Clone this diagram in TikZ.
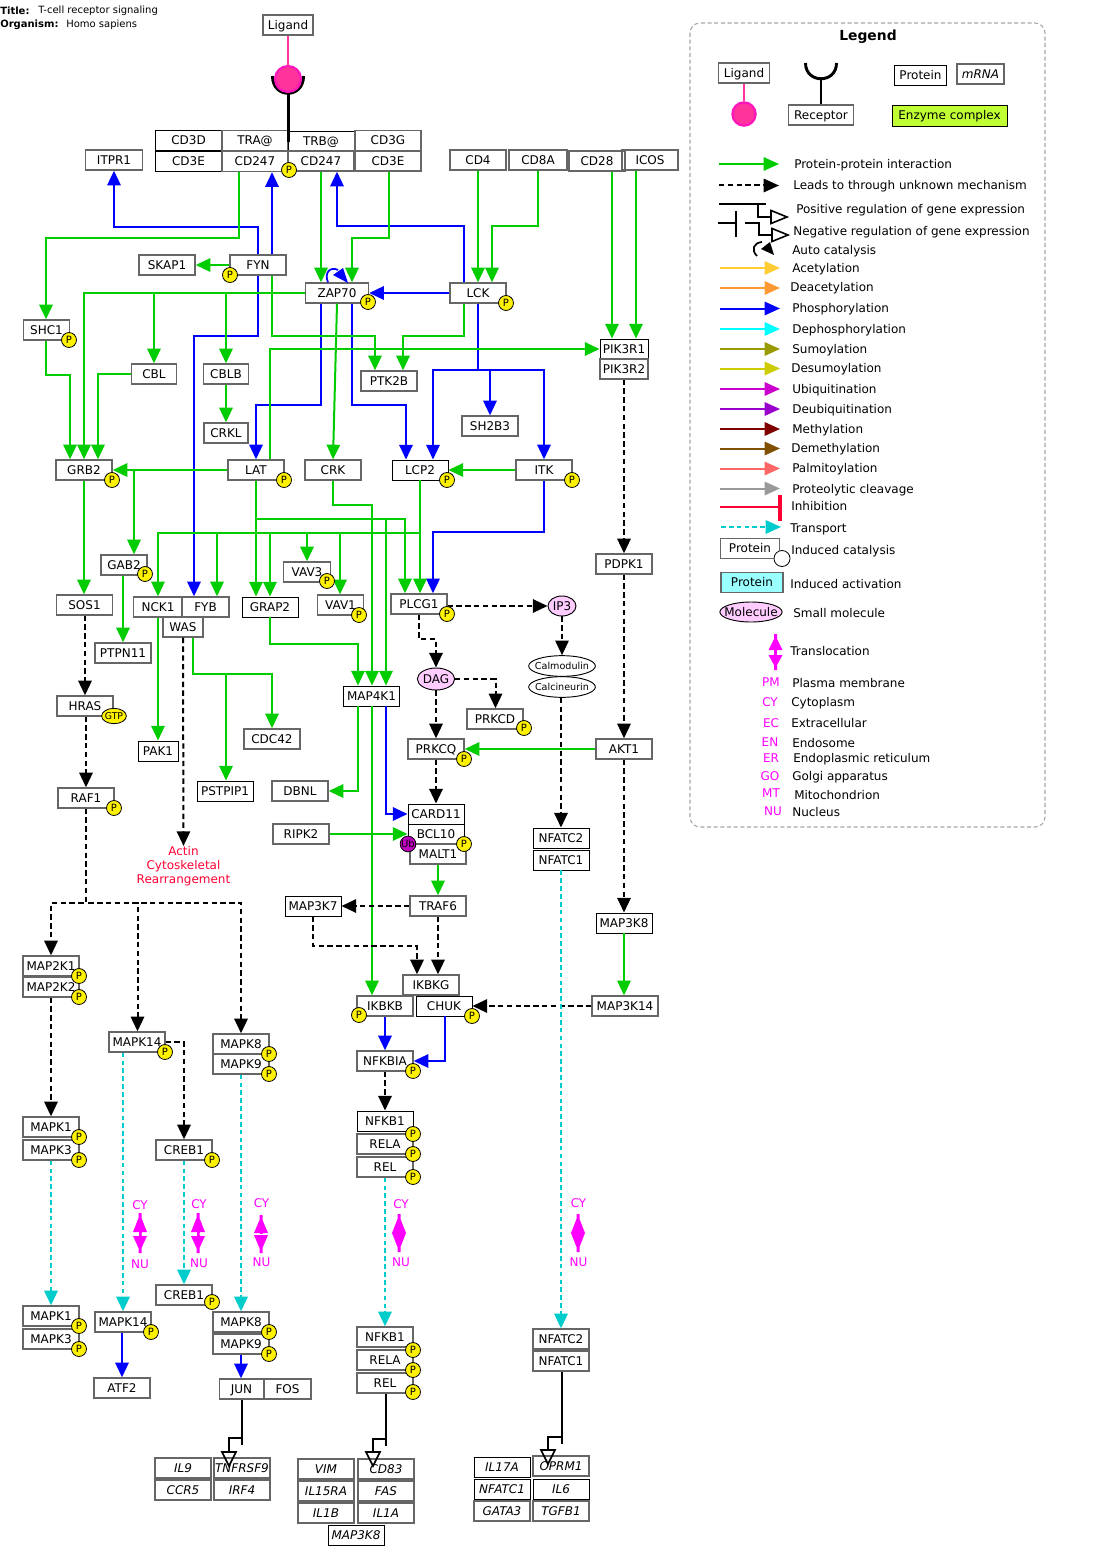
\documentclass[tikz,border=0pt]{standalone}
\usepackage{fontspec}
\setmainfont{DejaVu Sans}
\usetikzlibrary{arrows.meta,shapes.geometric}
\definecolor{gg}{RGB}{0,204,0}
\definecolor{bb}{RGB}{0,0,255}
\definecolor{cc}{RGB}{0,204,204}
\definecolor{mg}{RGB}{255,0,255}
\definecolor{bord}{RGB}{102,102,102}
\definecolor{pinkm}{RGB}{255,204,255}
\definecolor{redt}{RGB}{255,0,51}
\definecolor{lgd}{RGB}{255,51,153}
\definecolor{lgb}{RGB}{255,20,190}
\definecolor{la1}{RGB}{255,204,51}
\definecolor{la2}{RGB}{255,153,51}
\definecolor{la3}{RGB}{0,255,255}
\definecolor{la4}{RGB}{153,153,0}
\definecolor{la5}{RGB}{204,204,0}
\definecolor{la6}{RGB}{204,0,204}
\definecolor{la7}{RGB}{153,0,204}
\definecolor{la8}{RGB}{128,0,0}
\definecolor{la9}{RGB}{128,80,0}
\definecolor{la10}{RGB}{255,102,102}
\definecolor{la11}{RGB}{153,153,153}
\definecolor{ubc}{RGB}{192,0,192}
\definecolor{enz}{RGB}{191,255,51}
\definecolor{act}{RGB}{153,255,255}
\newcount\lgc
\tikzset{
  x=0.75pt,y=-0.75pt,
  wd/.style={minimum width=#1*0.75pt},
  ht/.style={minimum height=#1*0.75pt},
  gn/.style={draw=bord,line width=1pt,inner sep=0pt,text height=6.6pt,text depth=0pt,minimum width=42pt,minimum height=15pt,font=\fontsize{9}{10}\selectfont},
  bk/.style={draw=black,line width=0.7pt},
  gene/.style={gn,font=\fontsize{9}{10}\selectfont\itshape},
  mol/.style={ellipse,draw=black,line width=0.7pt,inner sep=0pt,fill=pinkm,font=\fontsize{9}{10}\selectfont},
  cal/.style={ellipse,draw=black,line width=0.7pt,inner sep=0pt,inner xsep=-5pt,font=\fontsize{7.2}{9}\selectfont},
  pm/.style={circle,draw=black,line width=0.6pt,fill=yellow,inner sep=0pt,minimum size=11.2pt,font=\fontsize{7.5}{8}\selectfont},
  tipp/.style={-{Triangle[length=11pt,width=10pt]}},
  pp/.style={draw=gg,line width=1.5pt,tipp},
  ph/.style={draw=bb,line width=1.5pt,tipp},
  un/.style={draw=black,line width=1.5pt,dash pattern=on 4pt off 2.6pt,tipp},
  tr/.style={draw=cc,line width=1.5pt,dash pattern=on 3.5pt off 2.4pt,tipp},
  lab/.style={anchor=west,inner sep=0pt,font=\fontsize{9}{10}\selectfont},
  mag/.style={inner sep=0pt,text=mg,font=\fontsize{9}{10}\selectfont},
  gx/.style={draw=black,line width=1.5pt},
  hollow/.style={draw=black,line width=1.2pt},
}
\newcommand{\Pm}[3]{\node[pm] (#1) at (#2,#3) {P};}
\newcommand{\Lg}[3]{\global\advance\lgc by 1 \node[lab,yshift=-0.75pt] (lg\the\lgc) at (#1,#2) {#3};}
\newcommand{\Mg}[3]{\global\advance\lgc by 1 \node[mag] (lg\the\lgc) at (#1,#2) {#3};}
\newcommand{\LgA}[2]{\draw[draw=#2,line width=1.5pt,-{Triangle[length=11.5pt,width=10pt]}] (720,#1) -- (780,#1);}
\newcommand{\Tl}[5]{%
  \fill[mg] (#1-1.5,#2) -- (#1+1.5,#2) -- (#1+1.5,#2+5) -- (#1+7,#3) -- (#1-7,#3) -- (#1-1.5,#2+5) -- cycle;
  \fill[mg] (#1-1.5,#5) -- (#1+1.5,#5) -- (#1+1.5,#5-5) -- (#1+7,#4) -- (#1-7,#4) -- (#1-1.5,#5-5) -- cycle;
  \fill[mg] (#1-1.5,#3) rectangle (#1+1.5,#4);}
\begin{document}
\begin{tikzpicture}
\useasboundingbox (0,0) rectangle (1099,1559);
\fill[white] (0,0) rectangle (1099,1559);
% header
\node[lab,font=\fontsize{7.5}{9}\selectfont\bfseries] (t1) at (0,10.5) {Title:};
\node[lab,font=\fontsize{7.5}{9}\selectfont] (t2) at (38,10.5) {T-cell receptor signaling};
\node[lab,font=\fontsize{7.5}{9}\selectfont\bfseries] (t3) at (0,24.5) {Organism:};
\node[lab,font=\fontsize{7.5}{9}\selectfont] (t4) at (66,24.5) {Homo sapiens};
% ---- nodes
\node[gn,wd=50] (Ligand) at (288,25) {Ligand};
\node[gn,bk,wd=66] (CD3D) at (188.5,140.5) {CD3D};
\node[gn,wd=66] (TRA) at (255,140.5) {TRA@};
\node[gn,bk,wd=66] (TRB) at (321,141) {TRB@};
\node[gn,wd=66] (CD3G) at (388,140.5) {CD3G};
\node[gn,bk,wd=66] (CD3Ea) at (188.5,161.5) {CD3E};
\node[gn,wd=66] (CD247a) at (255,161.5) {CD247};
\node[gn,wd=66] (CD247b) at (321,161) {CD247};
\node[gn,wd=66] (CD3Eb) at (388,161) {CD3E};
\node[gn,wd=57] (ITPR1) at (114,160) {ITPR1};
\node[gn] (CD4) at (478,160) {CD4};
\node[gn,wd=58] (CD8A) at (538,160) {CD8A};
\node[gn] (CD28) at (597,161) {CD28};
\node[gn] (ICOS) at (650,160) {ICOS};
\node[gn] (FYN) at (258,265) {FYN};
\node[gn] (SKAP1) at (167,265) {SKAP1};
\node[gn,wd=63] (ZAP70) at (337,293) {ZAP70};
\node[gn] (LCK) at (478,293) {LCK};
\node[gn,wd=46] (SHC1) at (46.5,330) {SHC1};
\node[gn,wd=45] (CBL) at (154,374) {CBL};
\node[gn,wd=45] (CBLB) at (226,374) {CBLB};
\node[gn,wd=44] (CRKL) at (226,433) {CRKL};
\node[gn] (PTK2B) at (389,381) {PTK2B};
\node[gn,bk,wd=48] (PIK3R1) at (624,349) {PIK3R1};
\node[gn,wd=48] (PIK3R2) at (624,369) {PIK3R2};
\node[gn] (SH2B3) at (490,426) {SH2B3};
\node[gn] (GRB2) at (84,470) {GRB2};
\node[gn] (LAT) at (256,470) {LAT};
\node[gn] (CRK) at (333,470) {CRK};
\node[gn,bk] (LCP2) at (420,470) {LCP2};
\node[gn] (ITK) at (544,470) {ITK};
\node[gn,wd=46] (GAB2) at (124,565) {GAB2};
\node[gn,wd=47] (VAV3) at (307,572) {VAV3};
\node[gn] (SOS1) at (84.5,605) {SOS1};
\node[gn,wd=49] (NCK1) at (158,607) {NCK1};
\node[gn,wd=47] (FYB) at (205.5,607) {FYB};
\node[gn,wd=40] (WAS) at (183,627) {WAS};
\node[gn,bk] (GRAP2) at (270,607) {GRAP2};
\node[gn,wd=46] (VAV1) at (340.5,605) {VAV1};
\node[gn] (PLCG1) at (419,604) {PLCG1};
\node[mol,minimum width=21pt,minimum height=15pt] (IP3) at (562,606) {IP3};
\node[gn] (PDPK1) at (624,564) {PDPK1};
\node[gn] (PTPN11) at (123,653) {PTPN11};
\node[cal,minimum width=50pt,minimum height=15.5pt] (Calm) at (562,666) {Calmodulin};
\node[cal,minimum width=50pt,minimum height=15.5pt] (Calc) at (562,687) {Calcineurin};
\node[mol,minimum width=27pt,minimum height=16.5pt] (DAG) at (436,679) {DAG};
\node[gn] (HRAS) at (85,706) {HRAS};
\node[gn,bk] (MAP4K1) at (371.5,696) {MAP4K1};
\node[gn] (PRKCD) at (495,719) {PRKCD};
\node[gn,bk,wd=40] (PAK1) at (158,751) {PAK1};
\node[gn] (CDC42) at (272,739) {CDC42};
\node[gn] (PRKCQ) at (436,749) {PRKCQ};
\node[gn] (AKT1) at (624,749) {AKT1};
\node[gn,bk] (PSTPIP1) at (225,791) {PSTPIP1};
\node[gn] (DBNL) at (300,791) {DBNL};
\node[gn] (RAF1) at (86,798) {RAF1};
\node[gn] (RIPK2) at (301,834) {RIPK2};
\node[gn,bk] (CARD11) at (436,814) {CARD11};
\node[gn,bk] (BCL10) at (436,834) {BCL10};
\node[gn] (MALT1) at (438,854) {MALT1};
\node[gn,bk] (NFATC2a) at (561,838) {NFATC2};
\node[gn,bk] (NFATC1a) at (561,860) {NFATC1};
\node[inner sep=0pt,align=center,text=redt,font=\fontsize{9}{10.5}\selectfont] (Actin) at (183.5,866) {Actin\\Cytoskeletal\\Rearrangement};
\node[gn,bk] (MAP3K7) at (313,906) {MAP3K7};
\node[gn] (TRAF6) at (438,906) {TRAF6};
\node[gn,bk] (MAP3K8p) at (624,923) {MAP3K8};
\node[gn] (MAP2K1) at (51,966) {MAP2K1};
\node[gn] (MAP2K2) at (51,987) {MAP2K2};
\node[gn] (IKBKG) at (431,985) {IKBKG};
\node[gn] (IKBKB) at (385,1006) {IKBKB};
\node[gn,bk] (CHUK) at (444,1006) {CHUK};
\node[gn,wd=66] (MAP3K14) at (625,1006) {MAP3K14};
\node[gn] (MAPK14a) at (137,1042) {MAPK14};
\node[gn] (MAPK8a) at (241,1044) {MAPK8};
\node[gn] (MAPK9a) at (241,1064) {MAPK9};
\node[gn] (NFKBIA) at (385,1061) {NFKBIA};
\node[gn,bk] (NFKB1a) at (385,1121) {NFKB1};
\node[gn] (RELAa) at (385,1144) {RELA};
\node[gn] (RELa) at (385,1167) {REL};
\node[gn] (MAPK1a) at (51,1127) {MAPK1};
\node[gn] (MAPK3a) at (51,1150) {MAPK3};
\node[gn] (CREB1a) at (184,1150) {CREB1};
\node[gn] (CREB1b) at (184,1295) {CREB1};
\node[gn] (MAPK1b) at (51,1316) {MAPK1};
\node[gn] (MAPK3b) at (51,1339) {MAPK3};
\node[gn] (MAPK14b) at (123,1322) {MAPK14};
\node[gn] (MAPK8b) at (241,1322) {MAPK8};
\node[gn] (MAPK9b) at (241,1344) {MAPK9};
\node[gn] (NFKB1b) at (385,1337) {NFKB1};
\node[gn] (RELAb) at (385,1360) {RELA};
\node[gn] (RELb) at (385,1383) {REL};
\node[gn] (NFATC2b) at (561,1339) {NFATC2};
\node[gn] (NFATC1b) at (561,1361) {NFATC1};
\node[gn] (ATF2) at (122,1388) {ATF2};
\node[gn,wd=44] (JUN) at (241.5,1389) {JUN};
\node[gn,wd=47] (FOS) at (287.5,1389) {FOS};
\node[gene] (IL9) at (183,1468) {IL9};
\node[gene] (TNFRSF9) at (242,1468) {TNFRSF9};
\node[gene] (CCR5) at (183,1490) {CCR5};
\node[gene] (IRF4) at (242,1490) {IRF4};
\node[gene] (VIM) at (326,1469) {VIM};
\node[gene] (CD83) at (386,1469) {CD83};
\node[gene] (IL15RA) at (326,1491) {IL15RA};
\node[gene] (FAS) at (386,1491) {FAS};
\node[gene] (IL1B) at (326,1513) {IL1B};
\node[gene] (IL1A) at (386,1513) {IL1A};
\node[gene,bk] (MAP3K8g) at (356,1535) {MAP3K8};
\node[gene,bk] (IL17A) at (502,1467) {IL17A};
\node[gene] (OPRM1) at (561,1466) {OPRM1};
\node[gene,bk] (NFATC1g) at (502,1489) {NFATC1};
\node[gene,bk] (IL6) at (561,1489) {IL6};
\node[gene] (GATA3) at (502,1511) {GATA3};
\node[gene] (TGFB1) at (561,1511) {TGFB1};
% ---- ligand / receptor
\node[circle,minimum size=19.5pt,inner sep=0pt] (LigC) at (288,79) {};
\draw[line width=2.25pt,black] (272.5,76) .. controls (272.5,99) and (303.5,99) .. (303.5,76);
\draw[line width=2.25pt,black] (LigC.south) -- (LigC.south |- 0,142);
\node[circle,draw=lgb,line width=1.6pt,fill=lgd,minimum size=19.5pt,inner sep=0pt] at (LigC) {};
\draw[line width=2.2pt,draw=lgd] (Ligand.south) -- (LigC.north);
% ---- blue
\draw[ph] (FYN.north -| 258,0) -- (258,227) -- (114,227) -- (ITPR1.south -| 114,0);
\draw[ph] (FYN.north -| 272,0) -- (CD247a.south -| 272,0);
\draw[ph] (LCK.north -| 464,0) -- (464,226) -- (337,226) -- (CD247b.south -| 337,0);
\draw[ph] (LCK.west) -- (ZAP70.east);
\draw[ph] (FYN.south -| 258,0) -- (258,336) -- (194,336) -- (FYB.north -| 194,0);
\draw[ph] (ZAP70.south -| 321,0) -- (321,405) -- (256,405) -- (LAT.north -| 256,0);
\draw[ph] (ZAP70.south -| 352,0) -- (352,405) -- (406,405) -- (LCP2.north -| 406,0);
\draw[ph] (LCK.south -| 478,0) -- (478,370) -- (490,370) -- (SH2B3.north -| 490,0);
\draw[ph] (LCK.south -| 478,0) -- (478,370) -- (433,370) -- (LCP2.north -| 433,0);
\draw[ph] (LCK.south -| 478,0) -- (478,370) -- (544,370) -- (ITK.north -| 544,0);
\draw[ph] (ITK.south -| 544,0) -- (544,532) -- (433,532) -- (PLCG1.north -| 433,0);
\draw[ph] (MAP4K1.south -| 385.5,0) -- (385.5,814) -- (CARD11.west);
\draw[ph] (IKBKB.south -| 385,0) -- (NFKBIA.north -| 385,0);
\draw[ph] (CHUK.south -| 444.5,0) -- (444.5,1061) -- (NFKBIA.east);
\draw[ph] (MAPK14b.south -| 122,0) -- (ATF2.north -| 122,0);
\draw[ph] (MAPK9b.south -| 241,0) -- (JUN.north -| 241,0);
% autocatalysis ZAP70
\draw[draw=bb,line width=1.3pt] (ZAP70.north -| 328,0) .. controls (324,273) and (330,266) .. (338,270);
\fill[bb] (343,268) -- (333,275) -- (348,283) -- cycle;
% ---- green
\draw[pp] (CD247a.south -| 239,0) -- (239,238) -- (46,238) -- (SHC1.north -| 46,0);
\draw[pp] (CD247b.south -| 321,0) -- (ZAP70.north -| 321,0);
\draw[pp] (CD3Eb.south -| 388.5,0) -- (388.5,238) -- (352,238) -- (ZAP70.north -| 352,0);
\draw[pp] (CD4.south -| 478,0) -- (LCK.north -| 478,0);
\draw[pp] (CD8A.south -| 538,0) -- (538,226) -- (492,226) -- (LCK.north -| 492,0);
\draw[pp] (CD28.south -| 612,0) -- (PIK3R1.north -| 612,0);
\draw[pp] (ICOS.south -| 636,0) -- (PIK3R1.north -| 636,0);
\draw[pp] (FYN.west) -- (SKAP1.east);
\draw[pp] (FYN.south -| 272,0) -- (272,336) -- (375,336) -- (PTK2B.north -| 375,0);
\draw[pp] (ZAP70.west) -- (84,293) -- (GRB2.north -| 84,0);
\draw[pp] (ZAP70.west) -- (154,293) -- (CBL.north -| 154,0);
\draw[pp] (ZAP70.west) -- (226,293) -- (CBLB.north -| 226,0);
\draw[pp] (CBLB.south -| 226,0) -- (CRKL.north -| 226,0);
\draw[pp] (ZAP70.south -| 337,0) -- (CRK.north -| 333,0);
\draw[pp] (SHC1.south -| 46,0) -- (46,375) -- (70,375) -- (GRB2.north -| 70,0);
\draw[pp] (CBL.west) -- (98,374) -- (GRB2.north -| 98,0);
\draw[pp] (LCK.south -| 464,0) -- (464,336) -- (403,336) -- (PTK2B.north -| 403,0);
\draw[pp] (LAT.north -| 270,0) -- (270,349) -- (PIK3R1.west);
\draw[pp] (LAT.west) -- (GRB2.east);
\draw[pp] (LAT.west) -- (134,470) -- (GAB2.north -| 134,0);
\draw[pp] (GRB2.south -| 84,0) -- (SOS1.north -| 84,0);
\draw[pp] (GAB2.south -| 123,0) -- (PTPN11.north -| 123,0);
\draw[pp] (LAT.south -| 256,0) -- (GRAP2.north -| 256,0);
\draw[pp] (LAT.south -| 256,0) -- (256,519) -- (405,519) -- (PLCG1.north -| 405,0);
\draw[pp] (LAT.south -| 256,0) -- (256,519) -- (386,519) -- (MAP4K1.north -| 386,0);
\draw[pp] (LCP2.south -| 420,0) -- (PLCG1.north -| 420,0);
\draw[pp] (LCP2.south -| 420,0) -- (420,532.5) -- (158,532.5) -- (NCK1.north -| 158,0);
\draw[pp] (LCP2.south -| 420,0) -- (420,532.5) -- (217,532.5) -- (FYB.north -| 217,0);
\draw[pp] (LCP2.south -| 420,0) -- (420,532.5) -- (270,532.5) -- (GRAP2.north -| 270,0);
\draw[pp] (LCP2.south -| 420,0) -- (420,532.5) -- (307,532.5) -- (VAV3.north -| 307,0);
\draw[pp] (LCP2.south -| 420,0) -- (420,532.5) -- (340,532.5) -- (VAV1.north -| 340,0);
\draw[pp] (CRK.south -| 333,0) -- (333,504.5) -- (372,504.5) -- (MAP4K1.north -| 372,0);
\draw[pp] (ITK.west) -- (LCP2.east);
\draw[pp] (GRAP2.south -| 270,0) -- (270,644) -- (358,644) -- (MAP4K1.north -| 358,0);
\draw[pp] (WAS.south -| 193,0) -- (193,674) -- (272,674) -- (CDC42.north -| 272,0);
\draw[pp] (WAS.south -| 193,0) -- (193,674) -- (226,674) -- (PSTPIP1.north -| 226,0);
\draw[pp] (NCK1.south -| 158,0) -- (PAK1.north -| 158,0);
\draw[pp] (MAP4K1.south -| 358,0) -- (358,791) -- (DBNL.east);
\draw[pp] (MAP4K1.south -| 372,0) -- (IKBKB.north -| 372,0);
\draw[pp] (RIPK2.east) -- (BCL10.west);
\draw[pp] (MALT1.south) -- (TRAF6.north);
\draw[pp] (AKT1.west) -- (PRKCQ.east);
\draw[pp] (MAP3K8p.south) -- (MAP3K14.north -| MAP3K8p.south);
% ---- unknown
\draw[un] (PIK3R2.south) -- (PDPK1.north);
\draw[un] (PDPK1.south) -- (AKT1.north);
\draw[un] (AKT1.south) -- (MAP3K8p.north);
\draw[un] (PLCG1.east |- 0,606) -- (IP3.west);
\draw[un] (IP3.south) -- (Calm.north);
\draw[un] (PLCG1.south -| 419,0) -- (419,639) -- (436,639) -- (DAG.north);
\draw[un] (DAG.east) -- (495.5,679) -- (PRKCD.north -| 495.5,0);
\draw[un] (DAG.south) -- (PRKCQ.north -| DAG.south);
\draw[un] (PRKCQ.south) -- (CARD11.north);
\draw[un] (Calc.south -| 561,0) -- (NFATC2a.north);
\draw[un] (SOS1.south -| 85,0) -- (HRAS.north -| 85,0);
\draw[un] (HRAS.south -| 86,0) -- (RAF1.north -| 86,0);
\draw[un] (WAS.south) -- (Actin.north);
\draw[un] (RAF1.south) -- (86,903) -- (51,903) -- (MAP2K1.north -| 51,0);
\draw[un] (RAF1.south) -- (86,903) -- (137.5,903) -- (MAPK14a.north -| 137.5,0);
\draw[un] (RAF1.south) -- (86,903) -- (241,903) -- (MAPK8a.north -| 241,0);
\draw[un] (MAP2K2.south -| 51,0) -- (MAPK1a.north -| 51,0);
\draw[un] (MAPK14a.east) -- (184,1042) -- (CREB1a.north -| 184,0);
\draw[un] (TRAF6.west) -- (MAP3K7.east);
\draw[un] (MAP3K7.south) -- (313,946) -- (417,946) -- (IKBKG.north -| 417,0);
\draw[un] (TRAF6.south) -- (IKBKG.north -| 438,0);
\draw[un] (MAP3K14.west) -- (CHUK.east);
\draw[un] (NFKBIA.south) -- (NFKB1a.north);
% ---- transport
\draw[tr] (MAPK3a.south) -- (MAPK1b.north);
\draw[tr] (MAPK14a.south -| 123,0) -- (MAPK14b.north);
\draw[tr] (CREB1a.south) -- (CREB1b.north);
\draw[tr] (MAPK9a.south) -- (MAPK8b.north);
\draw[tr] (RELa.south) -- (NFKB1b.north);
\draw[tr] (NFATC1a.south) -- (NFATC2b.north);
% ---- gene expression
\draw[gx] (JUN.south -| 241.5,0) -- (241.5,1445);
\draw[gx] (241.5,1438) -- (229,1438) -- (229,1452);
\draw[hollow] (222,1452) -- (236,1452) -- (229,1466) -- cycle;
\draw[gx] (RELb.south -| 386,0) -- (386,1446);
\draw[gx] (386,1439) -- (373,1439) -- (373,1452);
\draw[hollow] (366,1452) -- (380,1452) -- (373,1466) -- cycle;
\draw[gx] (NFATC1b.south -| 561.5,0) -- (561.5,1444);
\draw[gx] (561.5,1437) -- (548,1437) -- (548,1450);
\draw[hollow] (541,1450) -- (555,1450) -- (548,1464) -- cycle;
% ---- modification markers
\Pm{p1}{289}{170}\Pm{p2}{230}{275}\Pm{p3}{368}{302}\Pm{p4}{506}{303}\Pm{p5}{69}{340}
\Pm{p6}{112}{480}\Pm{p7}{284}{480}\Pm{p8}{447}{480}\Pm{p9}{572}{480}\Pm{p10}{145}{574}
\Pm{p11}{327}{581}\Pm{p12}{359}{615}\Pm{p13}{447}{614}\Pm{p14}{524}{728}\Pm{p15}{464}{759}
\Pm{p16}{114}{808}\Pm{p17}{464}{844}\Pm{p18}{79}{976}\Pm{p19}{79}{997}\Pm{p20}{359}{1015}
\Pm{p21}{472}{1016}\Pm{p22}{165}{1052}\Pm{p23}{269}{1054}\Pm{p24}{269}{1074}\Pm{p25}{413}{1071}
\Pm{p26}{413}{1134}\Pm{p27}{413}{1154}\Pm{p28}{413}{1177}\Pm{p29}{79}{1137}\Pm{p30}{79}{1160}
\Pm{p31}{212}{1160}\Pm{p32}{212}{1302}\Pm{p33}{79}{1326}\Pm{p34}{79}{1349}\Pm{p35}{151}{1332}
\Pm{p36}{269}{1332}\Pm{p37}{269}{1354}\Pm{p38}{413}{1350}\Pm{p39}{413}{1370}\Pm{p40}{413}{1392}
\node[pm,fill=ubc,font=\fontsize{7.5}{8}\selectfont] (Ub) at (408,844) {Ub};
\node[ellipse,draw=black,line width=0.6pt,fill=yellow,inner sep=0pt,inner xsep=-1.5pt,minimum width=18.5pt,minimum height=11.5pt,font=\fontsize{7}{8}\selectfont] (GTP) at (114,716) {GTP};
% ---- translocation marks
\Tl{140}{1213}{1232}{1236}{1253}
\Tl{198}{1213}{1232}{1236}{1253}
\Tl{261}{1215}{1233}{1235}{1253}
\Tl{399}{1214}{1233}{1233}{1252}
\Tl{578}{1214}{1233}{1233}{1252}
\fill[white] (133,1233) rectangle (138.5,1235) (141.5,1233) rectangle (147,1235);
\fill[white] (191,1233) rectangle (196.5,1235) (199.5,1233) rectangle (205,1235);
\fill[white] (253,1233.5) rectangle (269,1234.5);
\Mg{140}{1205}{CY}\Mg{140}{1264}{NU}
\Mg{199}{1204}{CY}\Mg{199}{1263}{NU}
\Mg{261.5}{1203}{CY}\Mg{261.5}{1262}{NU}
\Mg{401}{1204}{CY}\Mg{401}{1262}{NU}
\Mg{578.5}{1203}{CY}\Mg{578.5}{1262}{NU}
% ---- legend
\draw[draw=black!35,line width=0.8pt,dash pattern=on 3pt off 2pt,rounded corners=7.5pt] (690,23) rectangle (1045,827);
\node[inner sep=0pt,font=\fontsize{10.4}{12}\selectfont\bfseries] (lgT) at (868,37) {Legend};
\node[gn,wd=51] (lgLig) at (744,73) {Ligand};
\node[circle,draw=lgb,line width=1.6pt,fill=lgd,minimum size=17.5pt,inner sep=0pt] (lgC) at (744,114) {};
\draw[line width=2pt,draw=lgd] (lgLig.south) -- (lgC.north);
\node[gn,wd=65] (lgRec) at (821,115) {Receptor};
\draw[line width=2.2pt] (805.5,63) .. controls (805.5,84) and (836.5,84) .. (836.5,63);
\draw[line width=2.2pt] (821,79) -- (lgRec.north);
\node[gn,bk,wd=52] (lgPr) at (920.5,75) {Protein};
\node[gene,wd=47] (lgM) at (980.5,74) {mRNA};
\node[gn,bk,wd=115,ht=21,fill=enz] (lgE) at (949.5,115.5) {Enzyme complex};
\draw[draw=gg,line width=1.5pt,-{Triangle[length=11.5pt,width=10pt]}] (719,164) -- (779,164);
\draw[draw=black,line width=1.5pt,dash pattern=on 4pt off 2.6pt,-{Triangle[length=11.5pt,width=10pt]}] (719,185.5) -- (779,185.5);
\draw[gx] (719,204) -- (766,204);
\draw[gx] (758,204) -- (758,217) -- (771,217);
\draw[black,line width=1.2pt] (771,210.5) -- (787,217) -- (771,223.5) -- cycle;
\draw[gx] (718,223) -- (736,223);
\draw[draw=black,line width=2.2pt] (736,211) -- (736,237);
\draw[gx] (745,223) -- (759,223) -- (759,235) -- (772,235);
\draw[black,line width=1.2pt] (772,228.5) -- (788,235) -- (772,241.5) -- cycle;
\draw[black,line width=1.3pt] (757,256) .. controls (751,250) and (753,243) .. (762,242);
\fill[black] (770,242) -- (761,249) -- (774,255) -- cycle;
\LgA{268}{la1}
\LgA{288}{la2}
\LgA{308.5}{bb}
\LgA{329}{la3}
\LgA{349}{la4}
\LgA{368.5}{la5}
\LgA{389}{la6}
\LgA{409}{la7}
\LgA{429}{la8}
\LgA{448.5}{la9}
\LgA{468.5}{la10}
\LgA{488.5}{la11}
\draw[draw=redt,line width=1.5pt] (720,507) -- (780,507);
\draw[draw=redt,line width=2.6pt] (780,495) -- (780,520.5);
\draw[draw=cc,line width=1.5pt,dash pattern=on 3.5pt off 2.4pt,-{Triangle[length=11.5pt,width=10pt]}] (721,527) -- (781,527);
\node[gn,wd=59,ht=20] (lgP1) at (750,548.5) {Protein};
\node[circle,draw=black,line width=0.6pt,fill=white,minimum size=12pt,inner sep=0pt] (lgCi) at (782,558.5) {};
\node[gn,wd=62,ht=20,fill=act] (lgP2) at (752,582.5) {Protein};
\node[mol,inner xsep=-3.5pt,minimum width=46pt,minimum height=15pt] (lgMo) at (751,612) {Molecule};
\Tl{775.5}{634}{650}{655}{670}
\Lg{794}{164}{Protein-protein interaction}
\Lg{793}{185}{Leads to through unknown mechanism}
\Lg{796}{209}{Positive regulation of gene expression}
\Lg{793}{231}{Negative regulation of gene expression}
\Lg{792}{250}{Auto catalysis}
\Lg{792}{268}{Acetylation}
\Lg{790}{287}{Deacetylation}
\Lg{792}{308}{Phosphorylation}
\Lg{792}{329}{Dephosphorylation}
\Lg{792}{349}{Sumoylation}
\Lg{791}{368}{Desumoylation}
\Lg{792}{389}{Ubiquitination}
\Lg{792}{409}{Deubiquitination}
\Lg{792}{429}{Methylation}
\Lg{791}{448}{Demethylation}
\Lg{792}{468}{Palmitoylation}
\Lg{792}{489}{Proteolytic cleavage}
\Lg{791}{505}{Inhibition}
\Lg{790}{528}{Transport}
\Lg{791}{550}{Induced catalysis}
\Lg{790}{583}{Induced activation}
\Lg{793}{612}{Small molecule}
\Lg{790}{650}{Translocation}
\Lg{792}{682}{Plasma membrane}
\Lg{791}{702}{Cytoplasm}
\Lg{791}{722}{Extracellular}
\Lg{792}{742}{Endosome}
\Lg{793}{758}{Endoplasmic reticulum}
\Lg{792}{776}{Golgi apparatus}
\Lg{794}{794}{Mitochondrion}
\Lg{792}{811}{Nucleus}
\Mg{771}{682}{PM}\Mg{770}{702}{CY}\Mg{771}{723}{EC}\Mg{770}{742}{EN}
\Mg{771}{758}{ER}\Mg{770}{776}{GO}\Mg{771}{793}{MT}\Mg{773}{811}{NU}
\end{tikzpicture}
\end{document}
